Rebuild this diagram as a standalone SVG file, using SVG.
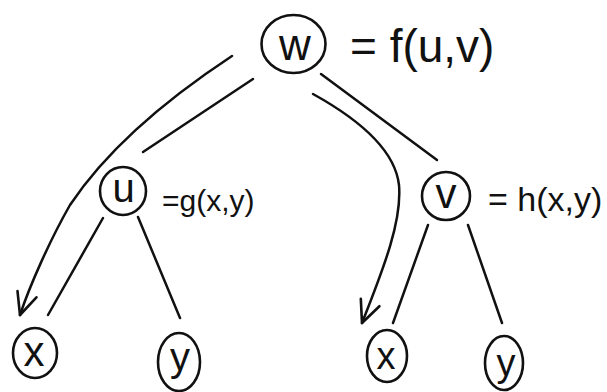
<svg xmlns="http://www.w3.org/2000/svg" width="607" height="392" viewBox="0 0 607 392">
<defs>
<style>
.node{fill:none;stroke:#111;stroke-width:2.6}
.lbl{font-family:"Liberation Sans",Arial,sans-serif;fill:#111;text-anchor:middle}
.eq{font-family:"Liberation Sans",Arial,sans-serif;fill:#111}
.edge{fill:none;stroke:#111;stroke-width:2.5;stroke-linecap:round;stroke-linejoin:round}
</style>
<marker id="arr" viewBox="-24 -12 26 24" refX="0" refY="0" markerWidth="26" markerHeight="24" markerUnits="userSpaceOnUse" orient="auto">
<path d="M-22,-10 L0,0 L-22,10" fill="none" stroke="#111" stroke-width="2.6" stroke-linecap="round" stroke-linejoin="round"/>
</marker>
</defs>
<rect width="607" height="392" fill="#fff"/>
<g id="connectors">
<path class="edge" d="M232,56 C150,110 100,160 70,205 C50,240 30,285 20,315" marker-end="url(#arr)"/>
<path class="edge" d="M253,79 L143,152"/>
<path class="edge" d="M321,74 L437,160"/>
<path class="edge" d="M313,94 C360,120 395,150 399,185 C402,220 385,265 362,323" marker-end="url(#arr)"/>
<path class="edge" d="M103,218 L48,315"/>
<path class="edge" d="M138,217 L180,318"/>
<path class="edge" d="M428,225 L393,323"/>
<path class="edge" d="M468,225 L502,323"/>
</g>
<g id="node-w">
<ellipse class="node" cx="293.5" cy="44" rx="32" ry="29"/>
<text class="lbl" x="295" y="60" font-size="44">w</text>
<text class="eq" x="350" y="62" font-size="46">= f(u,v)</text>
</g>
<g id="node-u">
<ellipse class="node" cx="123" cy="191" rx="23" ry="24"/>
<text class="lbl" x="123.5" y="202" font-size="40">u</text>
<text class="eq" x="162" y="211" font-size="30">=g(x,y)</text>
</g>
<g id="node-v">
<ellipse class="node" cx="446" cy="196" rx="24" ry="24"/>
<text class="lbl" x="446" y="208" font-size="42">v</text>
<text class="eq" x="488" y="211" font-size="34">= h(x,y)</text>
</g>
<g id="node-x1">
<ellipse class="node" cx="35" cy="353" rx="22" ry="25"/>
<text class="lbl" x="34" y="366" font-size="42">x</text>
</g>
<g id="node-y1">
<ellipse class="node" cx="179" cy="362" rx="21" ry="29"/>
<text class="lbl" x="180" y="371" font-size="40">y</text>
</g>
<g id="node-x2">
<ellipse class="node" cx="387" cy="356" rx="20" ry="26"/>
<text class="lbl" x="386" y="369" font-size="38">x</text>
</g>
<g id="node-y2">
<ellipse class="node" cx="504" cy="363" rx="19" ry="27"/>
<text class="lbl" x="506" y="376" font-size="38">y</text>
</g>
</svg>
